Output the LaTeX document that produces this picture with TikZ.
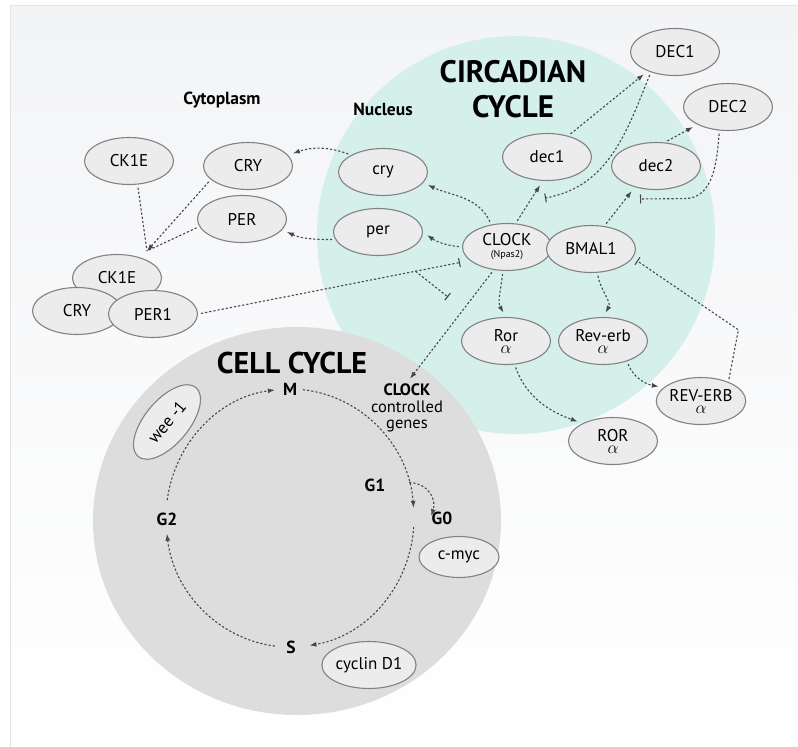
\documentclass[tikz,border=0pt]{standalone}
\usepackage{fontspec}
\setmainfont{PT Sans}
\usetikzlibrary{shapes.geometric,arrows.meta,positioning}
\definecolor{nucl}{RGB}{213,240,235}
\definecolor{cellc}{RGB}{221,221,222}
\definecolor{genefill}{RGB}{236,236,237}
\definecolor{geneline}{RGB}{130,130,132}
\definecolor{linkc}{RGB}{72,72,74}
\definecolor{bgtop}{RGB}{243,244,246}
\definecolor{bgline}{RGB}{226,228,231}
\newcommand{\gal}{\\[-6pt]{\fontsize{16}{16}\selectfont$\alpha$}}
\tikzset{
  gene/.style={ellipse,draw=geneline,fill=genefill,line width=1.1pt,minimum width=89pt,minimum height=47pt,inner sep=0pt,align=center,font=\fontsize{17}{18}\selectfont},
  lbl/.style={font=\bfseries\fontsize{17.5}{18}\selectfont,inner sep=1pt},
  act/.style={draw=linkc,line width=1.1pt,dash pattern=on 2.2pt off 2pt,-{Latex[length=7pt,width=5pt]},shorten >=5pt,shorten <=3pt},
  inh/.style={act,-{Bar[width=9pt,line width=1.1pt]}},
  cyc/.style={act,shorten >=0pt,shorten <=0pt}
}
\begin{document}
\begin{tikzpicture}[x=1pt,y=1pt]
\useasboundingbox (0,0) rectangle (798,-747);
\fill[white] (0,0) rectangle (798,-747);
\shadedraw[top color=bgtop,bottom color=white,draw=bgline] (10,-5) rectangle (798,-747);
\fill[nucl] (516,-235) circle (199);
\fill[cellc] (297,-521) ellipse [x radius=204,y radius=194];

\node[font=\bfseries\fontsize{31}{35}\selectfont,align=center] (circ) at (513,-89) {CIRCADIAN\\CYCLE};
\node[font=\bfseries\fontsize{30}{32}\selectfont] (cellt) at (292,-363) {CELL CYCLE};
\node[lbl] (cyto) at (222,-100) {Cytoplasm};
\node[lbl] (nucs) at (383,-109) {Nucleus};

\node[gene] (ck1) at (129,-161) {CK1E};
\node[gene] (cry1) at (248,-166) {CRY};
\node[gene] (per1) at (242,-219) {PER};
\node[gene] (ck2) at (117,-278) {CK1E};
\node[gene] (cry2) at (77,-311) {CRY};
\node[gene] (per2) at (153,-314) {PER1};
\node[gene] (ncry) at (383,-172) {cry};
\node[gene] (nper) at (378,-232) {per};
\node[gene] (D1) at (675,-52) {DEC1};
\node[gene] (D2) at (728,-107) {DEC2};
\node[gene] (dc1) at (547,-157) {dec1};
\node[gene] (dc2) at (656,-166) {dec2};
\node[gene] (clk) at (507,-247) {CLOCK\\[-6pt]{\fontsize{10}{10}\selectfont(Npas2)}};
\node[gene] (bml) at (591,-249) {BMAL1};
\node[gene] (ror) at (506,-341) {Ror\gal};
\node[gene] (rve) at (603,-341) {Rev-erb\gal};
\node[gene] (RVE) at (701,-401) {REV-ERB\gal};
\node[gene] (ROR) at (613,-441) {ROR\gal};
\node[gene,minimum width=80pt,minimum height=41pt] (myc) at (459,-557) {c-myc};
\node[gene] (cyc) at (369,-665) {cyclin D1};
\node[gene,rotate=50,minimum width=90pt,minimum height=44pt] (wee) at (167,-422) {wee -1};

\coordinate (cc) at (290,-518);
\node[lbl] (M) at (290,-389) {M};
\node[lbl] (G1) at (375,-485) {G1};
\node[lbl] (G0) at (442,-518) {G0};
\node[lbl] (G2) at (167,-519) {G2};
\node[lbl] (S) at (291,-647) {S};
\node[font=\fontsize{16.5}{16.5}\selectfont,align=center,inner sep=1pt] (ccg) at (407,-408) {\textbf{CLOCK}\\controlled\\genes};

\draw[cyc] ([shift={(84:124 and 129)}]cc) arc[start angle=84,end angle=4.5,x radius=124,y radius=129];
\draw[cyc] ([shift={(-4:124 and 129)}]cc) arc[start angle=-4,end angle=-81,x radius=124,y radius=129];
\draw[cyc] ([shift={(-97:124 and 129)}]cc) arc[start angle=-97,end angle=-173,x radius=124,y radius=129];
\draw[cyc] ([shift={(172:124 and 129)}]cc) arc[start angle=172,end angle=97,x radius=124,y radius=129];
\draw[cyc,shorten >=2pt] ([shift={(16:124 and 129)}]cc) .. controls +(20,-1) and +(6,18) .. (G0.west);

\coordinate (hub) at (147,-251);
\draw[act,-,shorten >=0pt] (ck1.-70) -- (hub);
\draw[act,shorten >=0pt] (cry1.-160) -- (hub);
\draw[act,-,shorten >=0pt] (per1.190) -- (hub);

\draw[act] (ncry.north west) to[out=160,in=20] (cry1.15);
\draw[act] (nper.190) to[out=180,in=-25] (per1.-15);
\draw[act] (clk.125) to[out=115,in=-25] (ncry.-15);
\draw[act] (clk.west) to[bend left=15] (nper.east);
\draw[act] (clk.70) -- (dc1.-100);
\draw[act] (bml.60) -- (dc2.-135);
\draw[act] (dc1.45) -- (D1.-145);
\draw[act] (dc2.70) -- (D2.-150);
\draw[act] (clk.-120) -- (ccg.north);
\draw[act] (clk.-100) to[out=-95,in=120] (ror.north);
\draw[act] (bml.-75) to[out=-80,in=60] (rve.north);
\draw[act] (ror.-70) to[out=-70,in=160] (ROR.150);
\draw[act] (rve.-40) to[out=-70,in=170] (RVE.160);

\coordinate (b1) at (545,-198);
\coordinate (b2) at (640,-199);
\coordinate (b3) at (448,-297);
\draw[inh,shorten >=0pt] (D1.-140) to[out=-112,in=10] (b1);
\draw[inh,shorten >=0pt] (D2.-110) to[out=-95,in=0] ++(-35,-68) -- (b2);
\draw[inh] (RVE.35) -- ++(10,52) -- (bml.-12);
\draw[inh,shorten >=10pt] (per2.east) -- coordinate[pos=0.8] (br) (clk.200);
\draw[inh,shorten <=0pt,shorten >=0pt] (br) -- (b3);
\end{tikzpicture}
\end{document}
